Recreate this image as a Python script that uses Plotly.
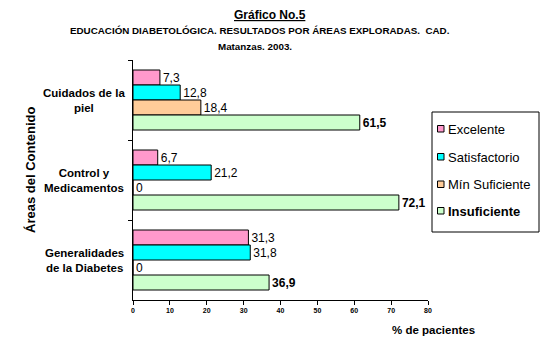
import plotly.graph_objects as go

categories = ["Cuidados de la piel", "Control y Medicamentos", "Generalidades de la Diabetes"]
cat_labels = ["Cuidados de la<br>piel", "Control y<br>Medicamentos", "Generalidades<br>de la Diabetes"]
series_names = ["Excelente", "Satisfactorio", "Mín Suficiente", "Insuficiente"]
excelente = [7.3, 6.7, 31.3]
satisfactorio = [12.8, 21.2, 31.8]
min_suficiente = [18.4, 0, 0]
insuficiente = [61.5, 72.1, 36.9]
x_ticks = [0, 10, 20, 30, 40, 50, 60, 70, 80]

colors = ["#FF99CC", "#00FFFF", "#FFCC99", "#CCFFCC"]
series_values = [excelente, satisfactorio, min_suficiente, insuficiente]

W, H = 543, 347
L, R, T, B = 133, 115, 60, 47
PW, PH = W - L - R, H - T - B


def px(xp):
    return (xp - L) / PW


def py(yp):
    return (H - B - yp) / PH


def fmt(v):
    if v == 0:
        return "0"
    return ("%.1f" % v).replace(".", ",")


FONT = "Liberation Sans, Arial, sans-serif"

fig = go.Figure()
for name, vals, col in zip(series_names, series_values, colors):
    bold = name == "Insuficiente"
    fig.add_trace(go.Bar(
        y=categories, x=vals, orientation="h", name=name,
        marker=dict(color=col, line=dict(color="black", width=1)),
        text=[("<b>%s</b>" % fmt(v)) if bold else fmt(v) for v in vals],
        textposition="outside", cliponaxis=False,
        textfont=dict(family=FONT, size=12, color="black"),
        showlegend=False,
    ))

fig.update_layout(
    width=W, height=H,
    margin=dict(l=L, r=R, t=T, b=B, autoexpand=False),
    paper_bgcolor="white", plot_bgcolor="white",
    barmode="group", bargap=0.25, bargroupgap=0,
    font=dict(family=FONT, size=12, color="black"),
    showlegend=False,
    xaxis=dict(
        range=[0, 80], tickvals=x_ticks, ticktext=[str(t) for t in x_ticks],
        showgrid=False, zeroline=False, showline=True, linecolor="black", linewidth=1,
        ticks="outside", ticklen=4, tickcolor="black",
        tickfont=dict(family=FONT, size=7, color="black", weight="bold"),
        fixedrange=True,
    ),
    yaxis=dict(
        categoryorder="array", categoryarray=categories, autorange="reversed",
        showgrid=False, zeroline=False, showline=True, linecolor="black", linewidth=1,
        ticks="outside", ticklen=4, tickcolor="black", tickson="boundaries",
        showticklabels=False,
    ),
)

annotations = []
shapes = []
for c, lab in zip(categories, cat_labels):
    annotations.append(dict(
        x=px(84), xref="paper", y=c, yref="y", text="<b>%s</b>" % lab,
        showarrow=False, xanchor="center", yanchor="middle", align="center",
        font=dict(family=FONT, size=11.5, color="black"),
    ))
annotations.append(dict(
    x=px(30), xref="paper", y=py(170), yref="paper", text="<b>Áreas del Contenido</b>",
    textangle=-90, showarrow=False, xanchor="center", yanchor="middle",
    font=dict(family=FONT, size=13, color="black"),
))
annotations.append(dict(
    x=px(434), xref="paper", y=py(330), yref="paper",
    text="<b>% de pacientes</b>", showarrow=False, xanchor="center", yanchor="middle",
    font=dict(family=FONT, size=11.5, color="black"),
))
titles = [
    ("<b><u>Gráfico No.5</u></b>", 270, 15, 12),
    ("<b>EDUCACIÓN DIABETOLÓGICA. RESULTADOS POR ÁREAS EXPLORADAS.  CAD.</b>", 260, 30, 9.8),
    ("<b>Matanzas. 2003.</b>", 255, 46, 9.8),
]
for txt, xx, yy, sz in titles:
    annotations.append(dict(
        x=px(xx), xref="paper", y=py(yy), yref="paper",
        text=txt, showarrow=False, xanchor="center", yanchor="middle",
        font=dict(family=FONT, size=sz, color="black"),
    ))

# legend box
shapes.append(dict(type="rect", xref="paper", yref="paper",
                   x0=px(432), x1=px(539), y0=py(112), y1=py(232),
                   line=dict(color="black", width=1), fillcolor="white", layer="below"))
legend_y = [129, 157, 184.5, 211]
for name, col, ly in zip(series_names, colors, legend_y):
    shapes.append(dict(type="rect", xref="paper", yref="paper",
                       x0=px(437.5), x1=px(444), y0=py(ly - 3.5), y1=py(ly + 3),
                       line=dict(color="black", width=1), fillcolor=col))
    annotations.append(dict(
        x=px(445.5), xref="paper", y=py(ly), yref="paper",
        text=("<b>%s</b>" % name) if name == "Insuficiente" else name,
        showarrow=False, xanchor="left", yanchor="middle",
        font=dict(family=FONT, size=13, color="black"),
    ))

fig.update_layout(annotations=annotations, shapes=shapes)

fig.write_html("out.html")
